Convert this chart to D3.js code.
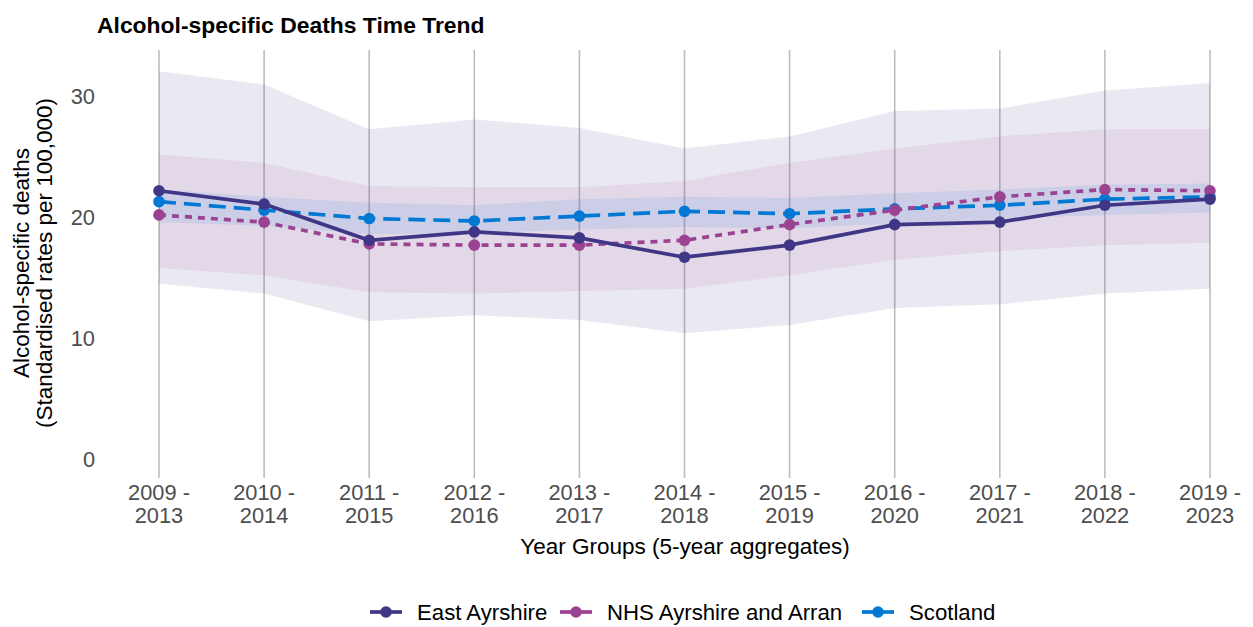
<!DOCTYPE html>
<html>
<head>
<meta charset="utf-8">
<script src="https://cdn.jsdelivr.net/npm/d3@7"></script>
<style>
  body { margin: 0; background: #fff; }
  text { font-family: "Liberation Sans", Arial, sans-serif; }
</style>
</head>
<body>
<div id="chart"></div>
<script>
var svgWidth = 1253;
var svgHeight = 627;

// Data
var yearGroups = ["2009 - 2013", "2010 - 2014", "2011 - 2015", "2012 - 2016", "2013 - 2017",
  "2014 - 2018", "2015 - 2019", "2016 - 2020", "2017 - 2021", "2018 - 2022", "2019 - 2023"];

var eastAyrshire      = [22.2, 21.1, 18.1, 18.8, 18.3, 16.7, 17.7, 19.4, 19.6, 21.0, 21.5];
var eastAyrshireLower = [14.5, 13.7, 11.4, 11.9, 11.5, 10.4, 11.1, 12.5, 12.8, 13.7, 14.1];
var eastAyrshireUpper = [32.1, 31.0, 27.3, 28.1, 27.4, 25.7, 26.7, 28.8, 29.0, 30.5, 31.1];

var nhsAyrshire      = [20.2, 19.6, 17.8, 17.7, 17.7, 18.1, 19.4, 20.6, 21.7, 22.3, 22.2];
var nhsAyrshireLower = [15.8, 15.2, 13.8, 13.7, 13.9, 14.1, 15.2, 16.5, 17.2, 17.7, 17.9];
var nhsAyrshireUpper = [25.2, 24.5, 22.6, 22.5, 22.5, 23.0, 24.5, 25.7, 26.7, 27.3, 27.3];

var scotland      = [21.3, 20.6, 19.9, 19.7, 20.1, 20.5, 20.3, 20.7, 21.0, 21.5, 21.7];
var scotlandLower = [19.6, 19.3, 18.6, 18.7, 19.0, 19.2, 19.1, 19.5, 19.9, 20.2, 20.4];
var scotlandUpper = [22.3, 21.7, 21.2, 21.0, 21.5, 21.7, 21.6, 22.0, 22.3, 22.7, 22.8];

var yTicks = [0, 10, 20, 30];

var seriesNames = ["East Ayrshire", "NHS Ayrshire and Arran", "Scotland"];
var seriesColors = ["#3f3685", "#9b4393", "#0078d4"];
var seriesDash = [null, "7,6", "17,8"];

var series = [
  { name: seriesNames[0], values: eastAyrshire, lower: eastAyrshireLower, upper: eastAyrshireUpper },
  { name: seriesNames[1], values: nhsAyrshire, lower: nhsAyrshireLower, upper: nhsAyrshireUpper },
  { name: seriesNames[2], values: scotland, lower: scotlandLower, upper: scotlandUpper }
];
series.forEach(function(s, i) {
  s.color = seriesColors[i];
  s.dash = seriesDash[i];
});

var svg = d3.select("#chart")
  .append("svg")
  .attr("width", svgWidth)
  .attr("height", svgHeight);

// Scales
var xScale = d3.scalePoint()
  .domain(yearGroups)
  .range([159, 1210]);

var yScale = d3.scaleLinear()
  .domain([0, 30])
  .range([459, 96.5]);

var panelTop = 50;
var panelBottom = 478;

// Vertical grid lines at each year group
svg.append("g")
  .selectAll("line")
  .data(yearGroups)
  .enter()
  .append("line")
  .attr("x1", d => xScale(d))
  .attr("x2", d => xScale(d))
  .attr("y1", panelTop)
  .attr("y2", panelBottom)
  .attr("stroke", "#bdbdbd")
  .attr("stroke-width", 1.6);

// Confidence bands
var area = d3.area()
  .x((d, i) => xScale(yearGroups[i]))
  .y0(d => yScale(d[0]))
  .y1(d => yScale(d[1]));

svg.append("g")
  .selectAll("path")
  .data(series)
  .enter()
  .append("path")
  .attr("d", s => area(s.lower.map((v, i) => [v, s.upper[i]])))
  .attr("fill", s => s.color)
  .attr("fill-opacity", (s, i) => i === 0 ? 0.11 : 0.1);

// Lines and points, drawn so East Ayrshire ends up on top
var line = d3.line()
  .x((d, i) => xScale(yearGroups[i]))
  .y(d => yScale(d));

var drawOrder = [series[2], series[1], series[0]];

var seriesGroups = svg.append("g")
  .selectAll("g")
  .data(drawOrder)
  .enter()
  .append("g");

seriesGroups.append("path")
  .attr("d", s => line(s.values))
  .attr("fill", "none")
  .attr("stroke", s => s.color)
  .attr("stroke-width", 3.7)
  .attr("stroke-dasharray", s => s.dash);

seriesGroups.selectAll("circle")
  .data(s => s.values.map((v, i) => ({ v: v, i: i, color: s.color })))
  .enter()
  .append("circle")
  .attr("cx", d => xScale(yearGroups[d.i]))
  .attr("cy", d => yScale(d.v))
  .attr("r", 5.8)
  .attr("fill", d => d.color);

// Y axis tick labels
svg.append("g")
  .selectAll("text")
  .data(yTicks)
  .enter()
  .append("text")
  .attr("x", 95)
  .attr("y", d => yScale(d))
  .attr("dy", "0.35em")
  .attr("text-anchor", "end")
  .attr("font-size", "21.8px")
  .attr("fill", "#4d4d4d")
  .text(d => d);

// X axis tick labels (two lines each)
var xLabels = svg.append("g")
  .selectAll("text")
  .data(yearGroups)
  .enter()
  .append("text")
  .attr("text-anchor", "middle")
  .attr("font-size", "21.8px")
  .attr("fill", "#4d4d4d");

xLabels.append("tspan")
  .attr("x", d => xScale(d))
  .attr("y", 500)
  .text(d => d.split(" - ")[0] + " -");

xLabels.append("tspan")
  .attr("x", d => xScale(d))
  .attr("y", 523)
  .text(d => d.split(" - ")[1]);

// Axis titles
svg.append("text")
  .attr("x", 685)
  .attr("y", 554)
  .attr("text-anchor", "middle")
  .attr("font-size", "22.5px")
  .attr("fill", "#000")
  .text("Year Groups (5-year aggregates)");

var yTitle = svg.append("text")
  .attr("transform", "translate(22, 263) rotate(-90)")
  .attr("text-anchor", "middle")
  .attr("font-size", "22.5px")
  .attr("fill", "#000");

yTitle.append("tspan")
  .attr("x", 0)
  .attr("y", 7)
  .text("Alcohol-specific deaths");

yTitle.append("tspan")
  .attr("x", 0)
  .attr("y", 30)
  .text("(Standardised rates per 100,000)");

// Chart title
svg.append("text")
  .attr("x", 97)
  .attr("y", 33)
  .attr("font-size", "22.9px")
  .attr("font-weight", "bold")
  .attr("fill", "#000")
  .text("Alcohol-specific Deaths Time Trend");

// Legend
var legendX = [370, 560, 862];
var legend = svg.append("g")
  .selectAll("g")
  .data(series)
  .enter()
  .append("g")
  .attr("transform", (s, i) => `translate(${legendX[i]}, 612)`);

legend.append("line")
  .attr("x1", 0)
  .attr("x2", 32)
  .attr("stroke", s => s.color)
  .attr("stroke-width", 3.7);

legend.append("circle")
  .attr("cx", 16)
  .attr("r", 5.8)
  .attr("fill", s => s.color);

legend.append("text")
  .attr("x", 47)
  .attr("dy", "0.35em")
  .attr("font-size", "22.2px")
  .attr("fill", "#000")
  .text(s => s.name);
</script>
</body>
</html>
